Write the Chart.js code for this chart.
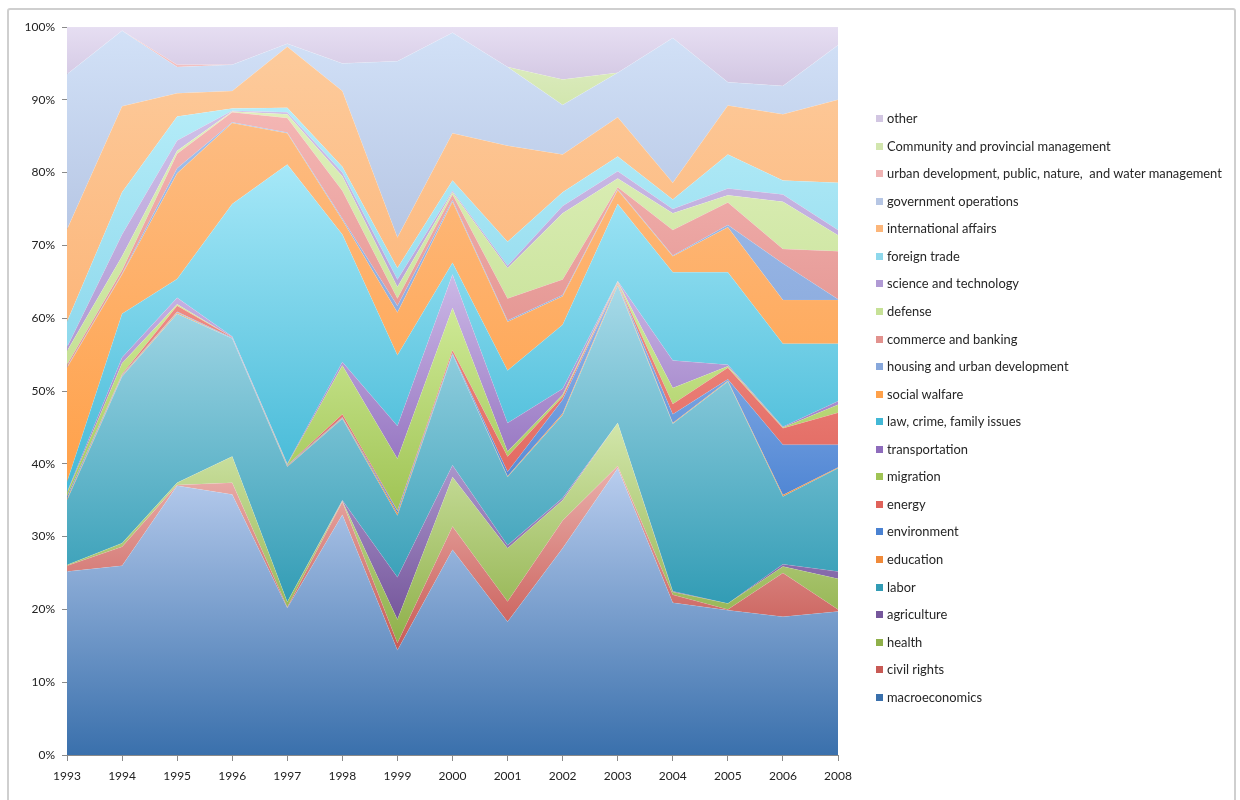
<!DOCTYPE html>
<html>
<head>
<meta charset="utf-8">
<script src="https://cdn.jsdelivr.net/npm/chart.js@4.4.1/dist/chart.umd.min.js"></script>
<style>
  html, body { margin: 0; padding: 0; background: #fff; }
  body { width: 1240px; height: 800px; position: relative; overflow: hidden; font-family: Lato, "Open Sans", sans-serif; }
  #frame { position: absolute; left: 7px; top: 8px; width: 1229px; height: 800px; border: 2px solid #cfcfcf; border-radius: 3px; box-sizing: border-box; }
  #wrap { position: absolute; left: 0; top: 0; width: 1240px; height: 800px; }
  #legend { position: absolute; left: 876px; top: 105px; margin: 0; padding: 0; list-style: none; }
  #legend li { height: 27.57px; line-height: 27.57px; font-size: 12.9px; color: #262626; white-space: pre; position: relative; padding-left: 11px; }
  #legend li span { position: absolute; left: 0; top: 10px; width: 7px; height: 7px; }
</style>
</head>
<body>
<div id="frame"></div>
<div id="wrap"><canvas id="grafico" width="1240" height="800"></canvas></div>
<ul id="legend"></ul>
<script>
// Years on the x axis (no 2007 column)
const anos = ["1993", "1994", "1995", "1996", "1997", "1998", "1999", "2000", "2001", "2002", "2003", "2004", "2005", "2006", "2008"];
const yTicks = ["0%", "10%", "20%", "30%", "40%", "50%", "60%", "70%", "80%", "90%", "100%"];

// Share of attention per topic (%), stacked bottom to top
const macroeconomics = [25.2, 26.0, 37.0, 35.8, 20.2, 33.0, 14.4, 28.2, 18.3, 28.4, 39.4, 20.9, 19.9, 19.0, 19.7];
const civilRights    = [0.8, 2.6, 0.1, 1.6, 0.1, 1.8, 1.0, 3.2, 2.8, 3.8, 0.3, 1.1, 0.1, 6.0, 0.3];
const health         = [0.1, 0.5, 0.3, 3.6, 0.7, 0.1, 3.2, 6.8, 7.3, 2.8, 5.9, 0.4, 0.8, 0.9, 4.2];
const agriculture    = [0, 0, 0, 0, 0, 0.1, 5.8, 1.6, 0.4, 0.3, 0, 0.1, 0, 0.3, 1.0];
const labor          = [8.9, 22.9, 23.2, 16.2, 18.6, 11.2, 8.5, 15.2, 9.4, 11.4, 18.9, 23.0, 30.5, 9.3, 14.2];
const education      = [0.2, 0.1, 0.2, 0, 0.1, 0.1, 0.3, 0, 0.1, 0.2, 0.2, 0.1, 0.1, 0.2, 0.1];
const environment    = [0.3, 0.1, 0.1, 0.1, 0.1, 0.1, 0.3, 0.2, 0.6, 1.9, 0.1, 1.2, 0.2, 6.9, 3.1];
const energy         = [0, 0.1, 0.8, 0.1, 0, 0.4, 0.1, 0.4, 2.1, 0.4, 0.1, 1.4, 1.6, 2.3, 4.4];
const migration      = [0.5, 1.5, 0.2, 0, 0.1, 6.7, 7.1, 5.8, 0.7, 0.3, 0.1, 2.2, 0.2, 0.1, 1.1];
const transportation = [0.1, 0.8, 0.9, 0.1, 0.1, 0.5, 4.5, 4.6, 3.9, 0.8, 0.1, 3.8, 0.2, 0.1, 0.5];
const lawCrime       = [1.4, 6.0, 2.6, 18.2, 41.1, 17.5, 9.7, 1.6, 7.2, 8.8, 10.6, 12.1, 12.7, 11.4, 7.9];
const socialWelfare  = [15.7, 5.4, 14.5, 11.1, 4.3, 2.0, 5.9, 8.4, 6.7, 3.9, 1.9, 2.2, 6.2, 6.0, 6.0];
const housing        = [0.1, 0.1, 0.7, 0.1, 0.1, 0.2, 0.9, 0.2, 0.2, 0.2, 0.1, 0.1, 0.3, 5.0, 0.1];
const commerce       = [0.3, 0.5, 2.0, 1.4, 2.0, 3.8, 1.0, 0.8, 3.0, 2.1, 0.3, 3.5, 3.1, 2.0, 6.6];
const defense        = [1.9, 1.9, 0.4, 0.1, 0.5, 2.0, 1.6, 0.3, 4.2, 9.1, 1.2, 2.3, 1.0, 6.5, 2.2];
const science        = [0.5, 3.0, 1.4, 0.1, 0.3, 0.5, 1.0, 0.2, 0.3, 1.0, 1.0, 0.6, 0.9, 1.0, 0.7];
const foreignTrade   = [3.5, 5.8, 3.3, 0.3, 0.6, 0.8, 1.6, 1.4, 3.3, 1.9, 2.0, 1.3, 4.7, 1.9, 6.5];
const international  = [12.7, 11.8, 3.2, 2.4, 8.4, 10.4, 4.2, 6.5, 13.2, 5.2, 5.4, 2.3, 6.7, 9.1, 11.4];
const government     = [21.3, 10.4, 3.6, 3.6, 0.4, 3.8, 24.2, 13.8, 10.8, 6.8, 6.1, 19.9, 3.2, 3.9, 7.5];
const urbanWater     = [0, 0, 0.3, 0, 0, 0, 0, 0, 0, 0, 0, 0, 0, 0, 0];
const community      = [0, 0, 0, 0, 0, 0, 0, 0, 0, 3.5, 0, 0, 0, 0, 0];
const other          = [6.5, 0.5, 5.2, 5.2, 2.3, 5.0, 4.7, 0.8, 5.5, 7.2, 6.3, 1.5, 7.6, 8.1, 2.5];

// [label, values, top colour, bottom colour]
const series = [
  ["macroeconomics", macroeconomics, "#b9cdee", "#3a70ac"],
  ["civil rights", civilRights, "#eab0ac", "#c85a55"],
  ["health", health, "#d2e6aa", "#8fb04a"],
  ["agriculture", agriculture, "#b8a6d8", "#76579c"],
  ["labor", labor, "#a8dae8", "#329cb5"],
  ["education", education, "#f9b070", "#f08a3a"],
  ["environment", environment, "#9cbcec", "#4a82d2"],
  ["energy", energy, "#f09088", "#e0625a"],
  ["migration", migration, "#d4ee9e", "#a0c455"],
  ["transportation", transportation, "#ccb8e6", "#8e6cbc"],
  ["law, crime, family issues", lawCrime, "#a6e8f8", "#42b8d6"],
  ["social walfare", socialWelfare, "#fdbc82", "#ffa14a"],
  ["housing and urban development", housing, "#a2bfea", "#88a8dc"],
  ["commerce and banking", commerce, "#f4b6b4", "#e2928e"],
  ["defense", defense, "#dff0bc", "#c6e196"],
  ["science and technology", science, "#d0c0e8", "#b09ad4"],
  ["foreign trade", foreignTrade, "#b4ecf8", "#8ed8ec"],
  ["international affairs", international, "#fdcb9c", "#fcb67a"],
  ["government operations", government, "#d2e1f7", "#b6c6e4"],
  ["urban development, public, nature,  and water management", urbanWater, "#f6c8c8", "#f0b4b4"],
  ["Community and provincial management", community, "#e2efca", "#d2e6ae"],
  ["other", other, "#e6def2", "#d2c6e2"]
];

// Vertical gradient from the highest edge of a band to its lowest edge
function preenchimento(i) {
  return function (ctx) {
    const chart = ctx.chart;
    const base = series[i][3];
    if (!chart.chartArea) return base;
    let topo = 0, fundo = Infinity;
    anos.forEach((_, j) => {
      let abaixo = 0;
      for (let k = 0; k < i; k++) abaixo += series[k][1][j];
      topo = Math.max(topo, abaixo + series[i][1][j]);
      fundo = Math.min(fundo, abaixo);
    });
    const y = chart.scales.y;
    const y0 = y.getPixelForValue(topo);
    const y1 = y.getPixelForValue(fundo);
    if (y1 - y0 < 2) return base;
    const g = chart.ctx.createLinearGradient(0, y0, 0, y1);
    g.addColorStop(0, series[i][2]);
    g.addColorStop(1, base);
    return g;
  };
}

const datasets = series.map((s, i) => ({
  label: s[0],
  data: s[1],
  fill: i === 0 ? "origin" : "-1",
  backgroundColor: preenchimento(i),
  borderColor: "rgba(255,255,255,0.15)",
  borderWidth: 0.6,
  pointRadius: 0,
  tension: 0
}));

const fonte = { family: "Lato, 'Open Sans', sans-serif", size: 12 };

new Chart(document.getElementById("grafico"), {
  type: "line",
  data: { labels: anos, datasets: datasets },
  options: {
    responsive: false,
    animation: false,
    layout: { padding: { left: 20, right: 402, top: 27, bottom: 13 } },
    plugins: { legend: { display: false }, tooltip: { enabled: false } },
    elements: { line: { borderJoinStyle: "round" } },
    scales: {
      x: {
        offset: false,
        grid: { display: true, drawOnChartArea: false, color: "#8a8a8a", tickLength: 6 },
        border: { color: "#8a8a8a" },
        ticks: { color: "#222", font: fonte, padding: 8, maxRotation: 0, autoSkip: false },
        afterFit: s => { s.height = 32; }
      },
      y: {
        stacked: true,
        min: 0,
        max: 100,
        grid: { display: true, drawOnChartArea: false, color: "#8a8a8a", tickLength: 5 },
        border: { color: "#8a8a8a" },
        ticks: { stepSize: 10, color: "#222", font: fonte, padding: 7, callback: (v, idx) => yTicks[idx] },
        afterFit: s => { s.width = 47; }
      }
    }
  }
});

// Legend, top entry first
const lista = document.getElementById("legend");
series.slice().reverse().forEach(s => {
  const li = document.createElement("li");
  li.innerHTML = `<span style="background:${s[3]}"></span>`;
  li.appendChild(document.createTextNode(s[0]));
  lista.appendChild(li);
});
</script>
</body>
</html>
